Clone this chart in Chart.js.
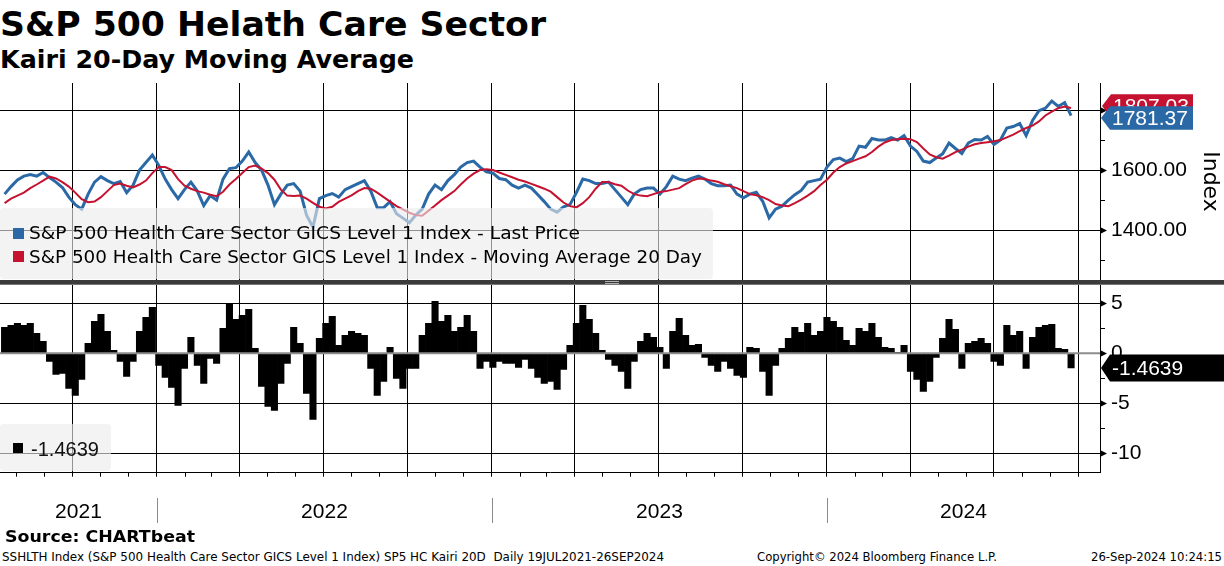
<!DOCTYPE html>
<html>
<head>
<meta charset="utf-8">
<script src="https://cdn.jsdelivr.net/npm/chart.js@4.4.1/dist/chart.umd.min.js"></script>
<style>
html, body { margin: 0; padding: 0; background: #fff; }
body { width: 1224px; height: 566px; position: relative; overflow: hidden; font-family: "DejaVu Sans", sans-serif; color: #000; }
.abs { position: absolute; white-space: nowrap; transform-origin: 0 0; }
.box { position: absolute; }
#title { left: 0; top: 7px; font: bold 34px/34px "DejaVu Sans"; }
#subtitle { left: 0; top: 47px; font: bold 25px/25px "DejaVu Sans"; }
#source { left: 5px; top: 529px; font: bold 16px/16px "DejaVu Sans"; }
.foot { top: 551px; font: 12px/12px "DejaVu Sans"; }
.legend { position: absolute; background: rgba(236,236,236,0.62); border-radius: 4px; }
.legtext { font: 18px/18px "DejaVu Sans"; }
.sq { position: absolute; width: 11px; height: 11px; }
#sep { position: absolute; left: 0; top: 280px; width: 1224px; height: 4px; background: #3b3b3b; border-bottom: 1px solid #777; }
.grip { position: absolute; left: 605px; width: 14px; height: 1px; background: #b0b0b0; }
</style>
</head>
<body>
<div class="box" style="left:0;top:80px;width:1224px;height:200px;"><canvas id="top"></canvas></div>
<div class="box" style="left:0;top:284px;width:1224px;height:246px;"><canvas id="bottom"></canvas></div>

<div id="title" class="abs">S&amp;P 500 Helath Care Sector</div>
<div id="subtitle" class="abs">Kairi 20-Day Moving Average</div>

<div class="legend" style="left:0;top:208px;width:713px;height:71px;"></div>
<div class="sq" style="left:13px;top:228px;background:#2a69a6;"></div>
<div class="sq" style="left:13px;top:251px;background:#c41230;"></div>
<div id="leg1" class="abs legtext" style="left:29px;top:224px;">S&amp;P 500 Health Care Sector GICS Level 1 Index - Last Price</div>
<div id="leg2" class="abs legtext" style="left:29px;top:248px;">S&amp;P 500 Health Care Sector GICS Level 1 Index - Moving Average 20 Day</div>

<div id="sep"><div class="grip" style="top:1px;"></div><div class="grip" style="top:3px;"></div></div>

<div class="legend" style="left:0;top:424px;width:111px;height:47px;"></div>
<div class="sq" style="left:13px;top:443px;background:#000;width:10px;height:10px;"></div>
<div id="leg3" class="abs" style="left:31px;top:439px;font:20px/20px 'Liberation Sans';color:#111;">-1.4639</div>

<div id="source" class="abs">Source: CHARTbeat</div>
<div id="foot1" class="abs foot" style="left:2px;">SSHLTH Index (S&amp;P 500 Health Care Sector GICS Level 1 Index) SP5 HC Kairi 20D&nbsp; Daily 19JUL2021-26SEP2024</div>
<div id="foot2" class="abs foot" style="left:757px;">Copyright© 2024 Bloomberg Finance L.P.</div>
<div id="foot3" class="abs foot" style="left:1091px;">26-Sep-2024 10:24:15</div>

<script>
// weekly samples, first week 19 Jul 2021
var firstWeek = Date.UTC(2021, 6, 19);

// S&P 500 Health Care, last price (weekly read-off)
var price = [
    1520, 1545, 1567, 1580, 1585, 1580, 1592, 1575, 1560, 1542,
    1510, 1485, 1470, 1520, 1560, 1578, 1565, 1555, 1562, 1525,
    1550, 1600, 1625, 1650, 1615, 1570, 1535, 1505, 1535, 1560,
    1530, 1482, 1515, 1500, 1570, 1605, 1608, 1630, 1660, 1625,
    1600, 1550, 1485, 1520, 1550, 1555, 1530, 1450, 1410, 1505,
    1515, 1522, 1510, 1535, 1545, 1555, 1565, 1530, 1475, 1475,
    1495, 1455, 1440, 1425, 1450, 1470, 1520, 1550, 1535, 1565,
    1585, 1610, 1625, 1630, 1610, 1594, 1590, 1572, 1568, 1550,
    1540, 1550, 1540, 1518, 1495, 1470, 1460, 1478, 1485, 1525,
    1570, 1565, 1555, 1555, 1560, 1535, 1510, 1485, 1520, 1535,
    1540, 1540, 1520, 1545, 1580, 1570, 1565, 1573, 1580, 1570,
    1555, 1548, 1548, 1550, 1520, 1508, 1520, 1526, 1496, 1441,
    1470, 1480, 1500, 1518, 1532, 1560, 1565, 1570, 1610, 1635,
    1640, 1628, 1638, 1680, 1676, 1705, 1700, 1700, 1708, 1700,
    1715, 1680, 1662, 1630, 1625, 1640, 1654, 1690, 1672, 1655,
    1690, 1702, 1700, 1712, 1685, 1700, 1740, 1745, 1755, 1715,
    1765, 1798, 1806, 1830, 1812, 1825, 1781.37
];

// 20 day moving average
var ma20 = [
    1490, 1505, 1515, 1525, 1540, 1552, 1565, 1578, 1572, 1560,
    1545, 1525, 1503, 1493, 1495, 1510, 1530, 1550, 1555, 1548,
    1542, 1552, 1565, 1590, 1610, 1610, 1600, 1570, 1548, 1538,
    1530, 1525, 1518, 1513, 1528, 1552, 1570, 1590, 1610, 1615,
    1605, 1590, 1568, 1535, 1515, 1514, 1515, 1505, 1491, 1478,
    1472, 1478, 1494, 1505, 1516, 1530, 1540, 1538, 1525, 1510,
    1495, 1480, 1469, 1458, 1450, 1448, 1465, 1482, 1500, 1515,
    1530, 1552, 1572, 1588, 1600, 1603, 1600, 1592, 1584, 1576,
    1568, 1562, 1554, 1546, 1538, 1528, 1510, 1492, 1480, 1476,
    1490, 1510, 1538, 1560, 1560, 1553, 1548, 1532, 1520, 1515,
    1513, 1520, 1527, 1530, 1535, 1540, 1553, 1565, 1572, 1570,
    1565, 1561, 1553, 1546, 1540, 1530, 1520, 1516, 1510, 1500,
    1487, 1482, 1480, 1490, 1502, 1515, 1530, 1550, 1568, 1592,
    1610, 1622, 1630, 1638, 1646, 1660, 1678, 1692, 1700, 1703,
    1704, 1703, 1693, 1672, 1652, 1643, 1638, 1648, 1660, 1668,
    1678, 1686, 1690, 1693, 1696, 1700, 1709, 1718, 1730, 1740,
    1748, 1762, 1782, 1795, 1806, 1812, 1807.03
];

// Kairi 20D (% distance from the moving average)
var kairi = [
    2.6, 2.8, 3.0, 2.8, 3.0, 2.0, 1.2, -0.8, -2.1, -2.0,
    -3.5, -4.2, -2.6, 1.0, 3.2, 3.9, 2.2, 0.3, -0.8, -2.3,
    -0.8, 2.2, 3.6, 4.6, -1.2, -2.4, -3.4, -5.2, -1.5, 1.6,
    -1.2, -3.0, -0.5, -1.0, 2.5, 4.9, 3.4, 3.8, 4.4, 0.5,
    -3.3, -5.3, -5.7, -3.0, -1.0, 2.6, 1.0, -4.0, -6.6, 1.5,
    3.0, 3.7, 0.8, 1.8, 2.2, 2.0, 1.8, -1.5, -4.2, -2.8,
    0.6, -2.5, -3.5, -1.5, -1.5, 1.8, 3.0, 5.2, 3.2, 3.8,
    2.2, 2.6, 3.8, 2.2, -1.5, -0.8, -1.4, -0.8, -1.0, -1.0,
    -1.4, -0.6, -1.5, -2.4, -3.0, -2.8, -3.6, -1.6, 0.8, 3.0,
    4.8, 3.4, 2.0, 0.3, -0.6, -1.2, -1.8, -3.5, -0.8, 1.2,
    2.0, 1.6, 0.6, -1.5, 2.2, 3.5, 1.8, 0.8, 0.9, -0.4,
    -1.2, -1.8, -0.8, -1.5, -2.2, -2.4, 0.6, 0.5, -1.8, -4.2,
    -1.2, 0.5, 1.5, 2.6, 2.1, 3.0, 1.8, 2.2, 3.6, 3.2,
    2.6, 1.3, 0.8, 2.5, 2.2, 3.0, 1.6, 0.6, 0.5, 0.1,
    0.8, -1.8, -2.6, -3.8, -2.8, -0.4, 1.5, 3.4, 2.4, -1.5,
    1.0, 1.2, 1.5, 1.0, -0.8, -1.2, 2.8, 1.8, 2.2, -1.5,
    1.6, 2.6, 2.8, 2.9, 0.5, 0.4, -1.4639
];

var yearLabels = ['2021', '2022', '2023', '2024'];
var priceTicks = [1300, 1400, 1500, 1600, 1700, 1800];
var kairiTicks = [5, 2.5, 0, -2.5, -5, -7.5, -10];

var BLUE = '#2a69a6';
var RED = '#c41230';
var DAY = 864e5;
var EPOCH = Date.UTC(2021, 0, 1);

function dayOf(y, m, d) {
    return (Date.UTC(y, m, d) - EPOCH) / DAY;
}

// visible date window in days since 1 Jan 2021
var X_MIN = 194, X_MAX = 1392.5;

var weeks = price.map(function (v, i) {
    return (firstWeek - EPOCH) / DAY + i * 7;
});

var monthTicks = [];
for (var yy = 2021; yy <= 2024; yy++) {
    for (var mm = 0; mm < 12; mm++) {
        var d = dayOf(yy, mm, 1);
        if (d >= X_MIN && d <= X_MAX) monthTicks.push({ value: d, q: mm % 3 === 0 });
    }
}
var quarterTicks = monthTicks.filter(function (t) { return t.q; });

function pts(arr) {
    return arr.map(function (v, i) { return { x: weeks[i], y: v }; });
}

Chart.defaults.font.family = 'Liberation Sans';
Chart.defaults.color = '#000';

// kill the label overhang padding so the plot spans the exact box
function noPad(s) {
    s.paddingTop = 0;
    s.paddingBottom = 0;
    s.paddingLeft = 0;
    s.paddingRight = 0;
}

function axisMarks(chart, isMajor) {
    var ctx = chart.ctx, ys = chart.scales.y, x0 = chart.chartArea.right;
    ctx.save();
    ctx.fillStyle = '#000';
    ctx.strokeStyle = '#000';
    ctx.lineWidth = 1;
    ys.ticks.forEach(function (t) {
        var y = Math.round(ys.getPixelForValue(t.value)) + 0.5;
        if (isMajor(t.value)) {
            ctx.beginPath();
            ctx.moveTo(x0, y - 3.5);
            ctx.lineTo(x0 + 7, y);
            ctx.lineTo(x0, y + 3.5);
            ctx.closePath();
            ctx.fill();
        } else {
            ctx.beginPath();
            ctx.moveTo(x0, y);
            ctx.lineTo(x0 + 5, y);
            ctx.stroke();
        }
    });
    ctx.restore();
}

function valueBox(ctx, tipX, rightX, cy, h, fill, text) {
    ctx.save();
    ctx.beginPath();
    ctx.moveTo(tipX, cy);
    ctx.lineTo(tipX + 9, cy - h / 2);
    ctx.lineTo(rightX, cy - h / 2);
    ctx.lineTo(rightX, cy + h / 2);
    ctx.lineTo(tipX + 9, cy + h / 2);
    ctx.closePath();
    ctx.fillStyle = fill;
    ctx.fill();
    ctx.fillStyle = '#fff';
    ctx.font = '21px "Liberation Sans"';
    ctx.textBaseline = 'middle';
    ctx.textAlign = 'left';
    ctx.fillText(text, tipX + 11, cy + 1);
    ctx.restore();
}

var topDecor = {
    id: 'topDecor',
    afterDraw: function (chart) {
        axisMarks(chart, function (v) { return v % 200 === 0; });
        var ys = chart.scales.y, x0 = chart.chartArea.right;
        var lastMa = ma20[ma20.length - 1], lastPx = price[price.length - 1];
        valueBox(chart.ctx, x0 + 2, 1193, ys.getPixelForValue(lastMa) - 2, 23.5, RED, lastMa.toFixed(2));
        valueBox(chart.ctx, x0 + 1, 1193, ys.getPixelForValue(lastPx) + 2.5, 23.5, BLUE, lastPx.toFixed(2));
    }
};

var bottomDecor = {
    id: 'bottomDecor',
    afterDatasetsDraw: function (chart) {
        var ctx = chart.ctx, ys = chart.scales.y, a = chart.chartArea;
        var y0 = ys.getPixelForValue(0);
        ctx.save();
        ctx.strokeStyle = '#8c8c8c';
        ctx.lineWidth = 2;
        ctx.beginPath();
        ctx.moveTo(a.left, y0);
        ctx.lineTo(a.right, y0);
        ctx.stroke();
        ctx.restore();
    },
    afterDraw: function (chart) {
        var ctx = chart.ctx, xs = chart.scales.x, ys = chart.scales.y, a = chart.chartArea;
        axisMarks(chart, function (v) { return v % 5 === 0; });
        var lastK = kairi[kairi.length - 1];
        valueBox(ctx, a.right + 1, 1224, ys.getPixelForValue(lastK), 27, '#000', lastK.toFixed(4));

        // year bands under the axis
        var bounds = [X_MIN, dayOf(2022, 0, 1), dayOf(2023, 0, 1), dayOf(2024, 0, 1), X_MAX];
        ctx.save();
        ctx.strokeStyle = '#8a8a8a';
        ctx.lineWidth = 1;
        for (var i = 1; i < bounds.length - 1; i++) {
            var sx = Math.round(xs.getPixelForValue(bounds[i])) + 0.5;
            ctx.beginPath();
            ctx.moveTo(sx, 214);
            ctx.lineTo(sx, 239);
            ctx.stroke();
        }
        ctx.fillStyle = '#000';
        ctx.font = '21px "Liberation Sans"';
        ctx.textAlign = 'center';
        ctx.textBaseline = 'middle';
        yearLabels.forEach(function (lab, i) {
            var cx = (xs.getPixelForValue(bounds[i]) + xs.getPixelForValue(bounds[i + 1])) / 2;
            ctx.fillText(lab, cx, 228);
        });
        ctx.restore();
    }
};

var topChart = new Chart(document.getElementById('top'), {
    type: 'line',
    data: {
        datasets: [
            { label: 'Moving Average 20 Day', data: pts(ma20), borderColor: RED, borderWidth: 2, pointRadius: 0, order: 0 },
            { label: 'Last Price', data: pts(price), borderColor: BLUE, borderWidth: 3, pointRadius: 0, order: 1 }
        ]
    },
    options: {
        responsive: true,
        maintainAspectRatio: false,
        animation: false,
        layout: { padding: { top: 3, bottom: 0, left: 0, right: 0 } },
        plugins: { legend: { display: false }, tooltip: { enabled: false } },
        scales: {
            x: {
                type: 'linear', min: X_MIN, max: X_MAX, offset: false,
                afterBuildTicks: function (s) { s.ticks = quarterTicks.map(function (t) { return { value: t.value }; }); },
                ticks: { display: false },
                grid: { color: '#000', lineWidth: 1, drawTicks: false, offset: false },
                border: { display: false },
                afterFit: function (s) { s.height = 0; noPad(s); }
            },
            y: {
                position: 'right', min: 1234, max: 1890,
                afterBuildTicks: function (s) { s.ticks = priceTicks.map(function (v) { return { value: v }; }); },
                ticks: {
                    padding: 11,
                    font: { size: 21 },
                    callback: function (v) { return v % 200 === 0 ? v.toFixed(2) : ''; }
                },
                grid: {
                    drawTicks: false,
                    color: function (c) { return c.tick && c.tick.value % 200 === 0 ? '#000' : 'rgba(0,0,0,0)'; }
                },
                border: { color: '#000' },
                title: { display: true, text: 'Index', font: { family: 'DejaVu Sans', size: 22 }, padding: { top: 1, bottom: 0 } },
                afterFit: function (s) { s.width = 124; noPad(s); }
            }
        }
    },
    plugins: [topDecor]
});

var bottomChart = new Chart(document.getElementById('bottom'), {
    type: 'bar',
    data: {
        datasets: [
            { label: 'Kairi 20D', data: pts(kairi), backgroundColor: '#000', borderWidth: 0, barPercentage: 1, categoryPercentage: 1 }
        ]
    },
    options: {
        responsive: true,
        maintainAspectRatio: false,
        animation: false,
        layout: { padding: { top: 0, bottom: 0, left: 0, right: 0 } },
        plugins: { legend: { display: false }, tooltip: { enabled: false } },
        scales: {
            x: {
                type: 'linear', min: X_MIN, max: X_MAX, offset: false,
                afterBuildTicks: function (s) { s.ticks = monthTicks.map(function (t) { return { value: t.value }; }); },
                ticks: { display: false },
                grid: {
                    offset: false,
                    lineWidth: 1,
                    tickLength: 4,
                    tickColor: '#000',
                    color: function (c) {
                        if (!c.tick) return 'rgba(0,0,0,0)';
                        var m = new Date(EPOCH + c.tick.value * DAY).getUTCMonth();
                        return m % 3 === 0 ? '#000' : 'rgba(0,0,0,0)';
                    }
                },
                border: { color: '#000' },
                afterFit: function (s) { s.height = 57.3; noPad(s); }
            },
            y: {
                position: 'right', min: -11.94, max: 6.94,
                afterBuildTicks: function (s) { s.ticks = kairiTicks.map(function (v) { return { value: v }; }); },
                ticks: {
                    padding: 11,
                    font: { size: 21 },
                    callback: function (v) { return v % 5 === 0 ? String(v) : ''; }
                },
                grid: {
                    drawTicks: false,
                    color: function (c) { return c.tick && c.tick.value % 5 === 0 && c.tick.value !== 0 ? '#000' : 'rgba(0,0,0,0)'; }
                },
                border: { color: '#000' },
                afterFit: function (s) { s.width = 124; noPad(s); }
            }
        }
    },
    plugins: [bottomDecor]
});

// squeeze / stretch the html texts to the widths measured on the reference
function fit(id, w) {
    var el = document.getElementById(id);
    var r = el.getBoundingClientRect().width;
    el.style.transform = 'scaleX(' + (w / r) + ')';
}
fit('title', 546);
fit('subtitle', 414);
fit('leg1', 551);
fit('leg2', 673);
fit('leg3', 68);
fit('source', 190);
fit('foot1', 662);
fit('foot2', 240);
fit('foot3', 131);
</script>
</body>
</html>
